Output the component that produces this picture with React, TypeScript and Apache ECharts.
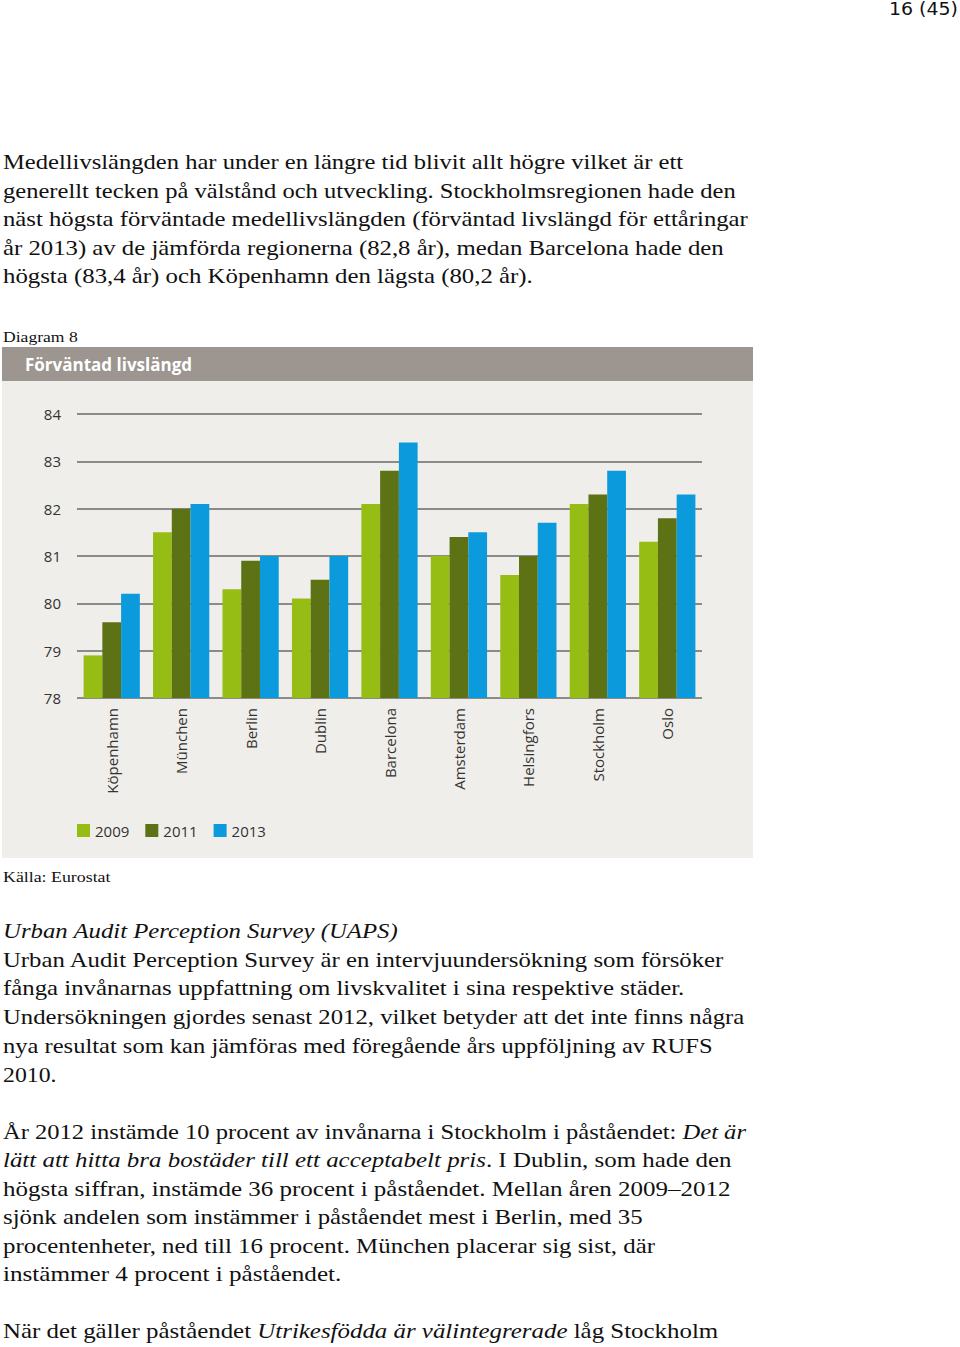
import React, { useEffect, useLayoutEffect, useRef } from "react";
import * as echarts from "echarts";

const cities = ["Köpenhamn", "München", "Berlin", "Dublin", "Barcelona", "Amsterdam", "Helsingfors", "Stockholm", "Oslo"];
const years = ["2009", "2011", "2013"];
const values2009 = [78.9, 81.5, 80.3, 80.1, 82.1, 81.0, 80.6, 82.1, 81.3];
const values2011 = [79.6, 82.0, 80.9, 80.5, 82.8, 81.4, 81.0, 82.3, 81.8];
const values2013 = [80.2, 82.1, 81.0, 81.0, 83.4, 81.5, 81.7, 82.8, 82.3];
const yTicks = [78, 79, 80, 81, 82, 83, 84];
const seriesColors = ["#96bd14", "#5d7215", "#0b9bdd"];
const chartTitle = "Förväntad livslängd";

type Part = string | { i: string };
type Line = { y: number; x: number; w: number; size: number; parts: Part[]; font?: string };

const LH = 28;
const serif = '"Liberation Serif", "DejaVu Serif", serif';

const textLines: Line[] = [
  { y: 162, x: 3, w: 680, size: 22, parts: ["Medellivslängden har under en längre tid blivit allt högre vilket är ett"] },
  { y: 191, x: 3, w: 733, size: 22, parts: ["generellt tecken på välstånd och utveckling. Stockholmsregionen hade den"] },
  { y: 219, x: 3, w: 745, size: 22, parts: ["näst högsta förväntade medellivslängden (förväntad livslängd för ettåringar"] },
  { y: 248, x: 3, w: 721, size: 22, parts: ["år 2013) av de jämförda regionerna (82,8 år), medan Barcelona hade den"] },
  { y: 276, x: 3, w: 530, size: 22, parts: ["högsta (83,4 år) och Köpenhamn den lägsta (80,2 år)."] },
  { y: 337, x: 3, w: 75, size: 15, parts: ["Diagram 8"] },
  { y: 877, x: 3, w: 107, size: 15, parts: ["Källa: Eurostat"] },
  { y: 931, x: 3, w: 395, size: 22, parts: [{ i: "Urban Audit Perception Survey (UAPS)" }] },
  { y: 960, x: 3, w: 720, size: 22, parts: ["Urban Audit Perception Survey är en intervjuundersökning som försöker"] },
  { y: 988, x: 3, w: 681, size: 22, parts: ["fånga invånarnas uppfattning om livskvalitet i sina respektive städer."] },
  { y: 1017, x: 3, w: 741, size: 22, parts: ["Undersökningen gjordes senast 2012, vilket betyder att det inte finns några"] },
  { y: 1046, x: 3, w: 710, size: 22, parts: ["nya resultat som kan jämföras med föregående års uppföljning av RUFS"] },
  { y: 1075, x: 3, w: 54, size: 22, parts: ["2010."] },
  { y: 1132, x: 3, w: 743, size: 22, parts: ["År 2012 instämde 10 procent av invånarna i Stockholm i påståendet: ", { i: "Det är" }] },
  { y: 1160, x: 3, w: 728, size: 22, parts: [{ i: "lätt att hitta bra bostäder till ett acceptabelt pris" }, ". I Dublin, som hade den"] },
  { y: 1189, x: 3, w: 727, size: 22, parts: ["högsta siffran, instämde 36 procent i påståendet. Mellan åren 2009–2012"] },
  { y: 1217, x: 3, w: 640, size: 22, parts: ["sjönk andelen som instämmer i påståendet mest i Berlin, med 35"] },
  { y: 1246, x: 3, w: 652, size: 22, parts: ["procentenheter, ned till 16 procent. München placerar sig sist, där"] },
  { y: 1274, x: 3, w: 338, size: 22, parts: ["instämmer 4 procent i påståendet."] },
  { y: 1331, x: 3, w: 715, size: 22, parts: ["När det gäller påståendet ", { i: "Utrikesfödda är välintegrerade" }, " låg Stockholm"] },
  { y: 9, x: 889, w: 69, size: 17, parts: ["16 (45)"], font: '"DejaVu Sans", Verdana, sans-serif' },
];

function Chart() {
  const ref = useRef<HTMLDivElement>(null);
  useEffect(() => {
    if (!ref.current) return;
    const chart = echarts.init(ref.current, undefined, { renderer: "svg" });
    const font = '"Open Sans", "Noto Sans", sans-serif';
    const data = [values2009, values2011, values2013];
    chart.setOption({
      animation: false,
      backgroundColor: "#f0eeea",
      textStyle: { fontFamily: font },
      graphic: [
        { type: "rect", shape: { x: 0, y: 0, width: 751, height: 34 }, style: { fill: "#9d958f" } },
        {
          type: "text",
          x: 23,
          y: 17,
          style: { text: chartTitle, fill: "#ffffff", fontSize: 17, fontWeight: "bold", fontFamily: font, verticalAlign: "middle" },
        },
      ],
      grid: { left: 75, right: 51, top: 67, bottom: 160 },
      legend: {
        left: 75,
        top: 476,
        padding: 0,
        itemWidth: 13,
        itemHeight: 13,
        itemGap: 16,
        icon: "rect",
        data: years,
        textStyle: { fontSize: 15, color: "#333333", fontFamily: font },
      },
      xAxis: {
        type: "category",
        data: cities,
        axisLine: { show: false },
        axisTick: { show: false },
        axisLabel: { rotate: 90, fontSize: 15, color: "#333333", margin: 10, fontFamily: font, interval: 0 },
      },
      yAxis: {
        type: "value",
        min: yTicks[0],
        max: yTicks[yTicks.length - 1],
        interval: 1,
        axisLine: { show: false },
        axisTick: { show: false },
        axisLabel: { fontSize: 15, color: "#333333", margin: 16, fontFamily: font },
        splitLine: { lineStyle: { color: "#6a6a6a", width: 1.5 } },
      },
      series: years.map((y, i) => ({
        name: y,
        type: "bar",
        data: data[i],
        barGap: "0%",
        barCategoryGap: "19%",
        itemStyle: { color: seriesColors[i] },
      })),
    });
    return () => chart.dispose();
  }, []);
  return <div ref={ref} style={{ position: "absolute", left: 2, top: 347, width: 751, height: 511 }} />;
}

export default function App() {
  const refs = useRef<(HTMLDivElement | null)[]>([]);
  useLayoutEffect(() => {
    textLines.forEach((l, idx) => {
      const el = refs.current[idx];
      if (!el) return;
      el.style.transform = "none";
      const w = el.offsetWidth;
      if (w > 0) el.style.transform = `scaleX(${l.w / w})`;
    });
  }, []);
  return (
    <div style={{ position: "absolute", left: 0, top: 0, width: 960, height: 1347, background: "#ffffff", overflow: "hidden" }}>
      {textLines.map((l, idx) => (
        <div
          key={idx}
          ref={(el) => {
            refs.current[idx] = el;
          }}
          style={{
            position: "absolute",
            left: l.x,
            top: l.y - LH / 2,
            height: LH,
            lineHeight: LH + "px",
            fontSize: l.size,
            fontFamily: l.font || serif,
            color: "#111111",
            whiteSpace: "nowrap",
            transformOrigin: "left center",
          }}
        >
          {l.parts.map((p, j) =>
            typeof p === "string" ? <span key={j}>{p}</span> : <i key={j}>{p.i}</i>
          )}
        </div>
      ))}
      <Chart />
    </div>
  );
}
